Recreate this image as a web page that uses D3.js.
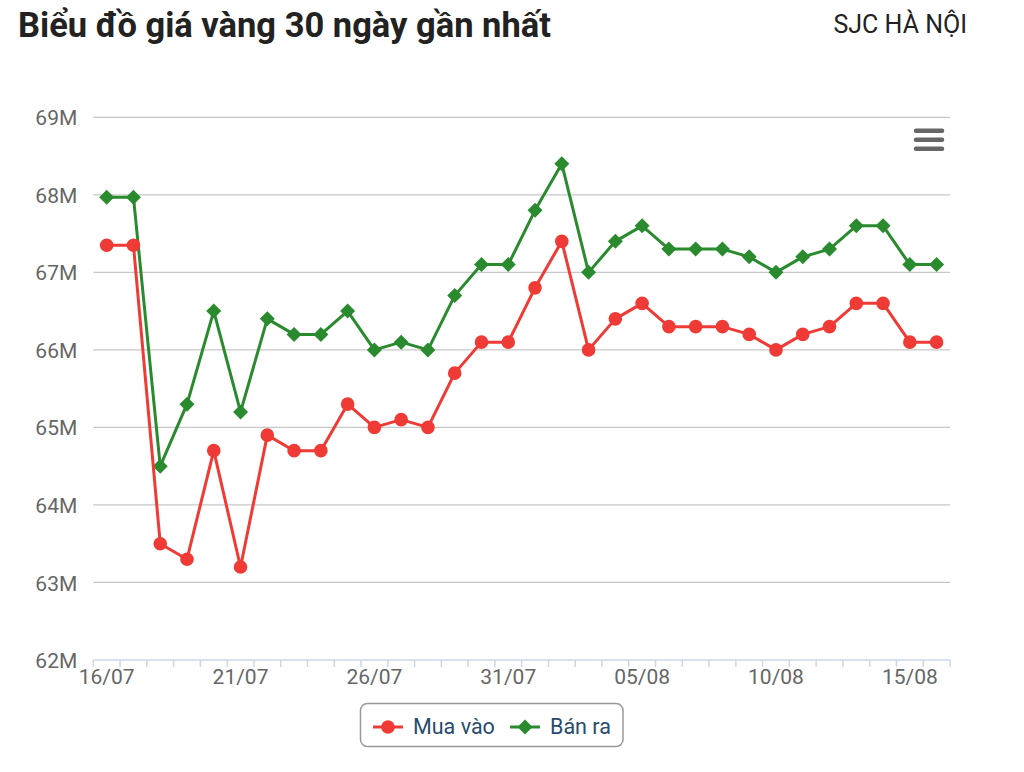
<!DOCTYPE html>
<html>
<head>
<meta charset="utf-8">
<script src="https://cdn.jsdelivr.net/npm/d3@7"></script>
<style>
  body { margin: 0; background: #fff; font-family: Roboto, "Noto Sans", sans-serif; }
</style>
</head>
<body>
<div id="vis"></div>
<script>
// chart size
const WIDTH = 1024;
const HEIGHT = 772;
const MARG = {left: 93.3, right: 74, top: 117.3, bottom: 112};
const VIS_WIDTH = WIDTH - MARG.left - MARG.right;
const VIS_HEIGHT = HEIGHT - MARG.top - MARG.bottom;

// data (millions VND)
const DATES = ["16/07","17/07","18/07","19/07","20/07","21/07","22/07","23/07","24/07","25/07",
               "26/07","27/07","28/07","29/07","30/07","31/07","01/08","02/08","03/08","04/08",
               "05/08","06/08","07/08","08/08","09/08","10/08","11/08","12/08","13/08","14/08",
               "15/08","16/08"];
const MUA_VAO = [67.35,67.35,63.5,63.3,64.7,63.2,64.9,64.7,64.7,65.3,
                 65.0,65.1,65.0,65.7,66.1,66.1,66.8,67.4,66.0,66.4,
                 66.6,66.3,66.3,66.3,66.2,66.0,66.2,66.3,66.6,66.6,
                 66.1,66.1];
const BAN_RA = [67.97,67.97,64.5,65.3,66.5,65.2,66.4,66.2,66.2,66.5,
                66.0,66.1,66.0,66.7,67.1,67.1,67.8,68.4,67.0,67.4,
                67.6,67.3,67.3,67.3,67.2,67.0,67.2,67.3,67.6,67.6,
                67.1,67.1];
const Y_TICKS = [62,63,64,65,66,67,68,69];
const LABEL_STEP = 5;

const RED = "#ef3a35";
const GREEN = "#2a8a2e";

const svg = d3.select("#vis")
  .append("svg")
    .attr("width", WIDTH)
    .attr("height", HEIGHT);

// title + location
svg.append("text")
  .attr("x", 18).attr("y", 37)
  .attr("font-size", "34.5px").attr("font-weight", "bold")
  .attr("fill", "#222")
  .text("Biểu đồ giá vàng 30 ngày gần nhất");
svg.append("text")
  .attr("x", 967).attr("y", 33)
  .attr("text-anchor", "end")
  .attr("font-size", "25px")
  .attr("fill", "#222")
  .text("SJC HÀ NỘI");

// scales
const X_SCALE = d3.scaleBand()
  .domain(DATES)
  .range([MARG.left, MARG.left + VIS_WIDTH]);
const Y_SCALE = d3.scaleLinear()
  .domain([62, 69])
  .range([MARG.top + VIS_HEIGHT, MARG.top]);
const xc = (d) => X_SCALE(d) + X_SCALE.bandwidth() / 2;

// grid lines
svg.append("g")
  .selectAll("line")
  .data(Y_TICKS.slice(1))
  .enter().append("line")
    .attr("x1", MARG.left).attr("x2", MARG.left + VIS_WIDTH)
    .attr("y1", (d) => Y_SCALE(d)).attr("y2", (d) => Y_SCALE(d))
    .attr("stroke", "#c8c8c8").attr("stroke-width", 1.3);

// y axis labels
const yAxis = svg.append("g")
  .attr("transform", "translate(" + (MARG.left - 13) + ",0)")
  .call(d3.axisLeft(Y_SCALE).tickValues(Y_TICKS).tickSize(0).tickFormat((d) => d + "M"));
yAxis.select(".domain").remove();
yAxis.selectAll("text")
  .attr("font-size", "21px").attr("fill", "#666")
  .attr("font-family", "Roboto, sans-serif")
  .attr("dy", "0.36em");

// x axis: tick marks between categories
const boundaries = DATES.map((d) => X_SCALE(d)).concat([MARG.left + VIS_WIDTH]);
const xg = svg.append("g");
xg.append("line")
  .attr("x1", MARG.left).attr("x2", MARG.left + VIS_WIDTH)
  .attr("y1", Y_SCALE(62)).attr("y2", Y_SCALE(62))
  .attr("stroke", "#ccd6eb").attr("stroke-width", 1.5);
xg.selectAll("line.tick")
  .data(boundaries)
  .enter().append("line")
    .attr("class", "tick")
    .attr("x1", (d) => d).attr("x2", (d) => d)
    .attr("y1", Y_SCALE(62)).attr("y2", Y_SCALE(62) + 7)
    .attr("stroke", "#ccd6eb").attr("stroke-width", 1.5);
xg.selectAll("text")
  .data(DATES.filter((d, i) => i % LABEL_STEP === 0))
  .enter().append("text")
    .attr("x", (d) => xc(d))
    .attr("y", Y_SCALE(62) + 24)
    .attr("text-anchor", "middle")
    .attr("font-size", "21px").attr("fill", "#666")
    .text((d) => d);

// series
const line = d3.line()
  .x((d, i) => xc(DATES[i]))
  .y((d) => Y_SCALE(d));

function drawSeries(values, color, shape) {
  const g = svg.append("g");
  g.append("path")
    .datum(values)
    .attr("d", line)
    .attr("fill", "none")
    .attr("stroke", color)
    .attr("stroke-width", 3)
    .attr("stroke-linejoin", "round");
  g.selectAll("path.marker")
    .data(values)
    .enter().append("path")
      .attr("class", "marker")
      .attr("transform", (d, i) => "translate(" + xc(DATES[i]) + "," + Y_SCALE(d) + ")")
      .attr("d", shape)
      .attr("fill", color);
}
const circleShape = d3.symbol().type(d3.symbolCircle).size(Math.PI * 6.8 * 6.8)();
const diamondShape = "M0,-7.5L7.5,0L0,7.5L-7.5,0Z";

drawSeries(BAN_RA, GREEN, diamondShape);
drawSeries(MUA_VAO, RED, circleShape);

// menu icon
svg.append("g")
  .selectAll("line")
  .data([130.7, 139.7, 148.7])
  .enter().append("line")
    .attr("x1", 916).attr("x2", 942)
    .attr("y1", (d) => d).attr("y2", (d) => d)
    .attr("stroke", "#666").attr("stroke-width", 4.5)
    .attr("stroke-linecap", "round");

// legend
const legend = svg.append("g");
legend.append("rect")
  .attr("x", 360.5).attr("y", 703.5)
  .attr("width", 262.5).attr("height", 43)
  .attr("rx", 7)
  .attr("fill", "#fff").attr("stroke", "#999").attr("stroke-width", 1.5);
const items = [
  {name: "Mua vào", color: RED, shape: circleShape, x: 373},
  {name: "Bán ra", color: GREEN, shape: diamondShape, x: 510}
];
items.forEach((it) => {
  legend.append("line")
    .attr("x1", it.x).attr("x2", it.x + 30)
    .attr("y1", 727).attr("y2", 727)
    .attr("stroke", it.color).attr("stroke-width", 3);
  legend.append("path")
    .attr("transform", "translate(" + (it.x + 15) + ",727)")
    .attr("d", it.shape)
    .attr("fill", it.color);
  legend.append("text")
    .attr("x", it.x + 40).attr("y", 734)
    .attr("font-size", "21.5px").attr("fill", "#274b6d")
    .text(it.name);
});
</script>
</body>
</html>
